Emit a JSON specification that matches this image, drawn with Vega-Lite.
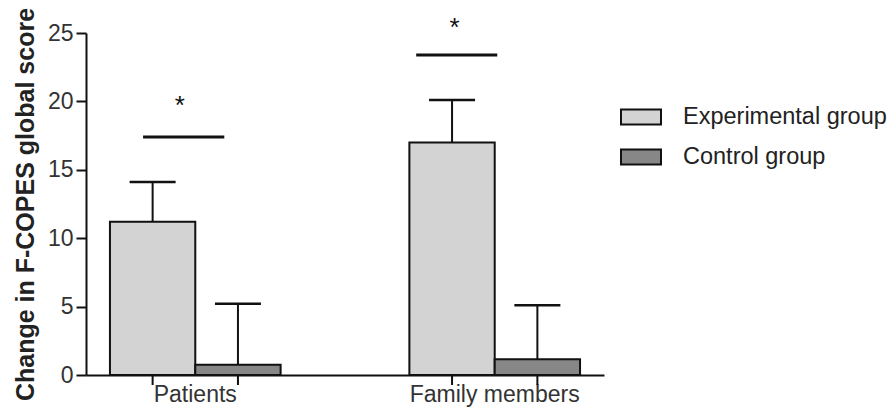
{
  "$schema": "https://vega.github.io/schema/vega-lite/v6.json",
  "autosize": "none",
  "width": 518,
  "height": 342,
  "padding": {"left": 86, "top": 33, "right": 284, "bottom": 33},
  "background": "white",
  "config": {
    "view": {"stroke": null},
    "font": "Liberation Sans",
    "axis": {"grid": false, "domainColor": "#111", "domainWidth": 2, "tickColor": "#111", "tickWidth": 2, "labelColor": "#333", "titleColor": "#222"}
  },
  "datasets": {
    "bars": [
      {"group": "Patients", "series": "Experimental group", "mean": 11.2, "upper": 14.1},
      {"group": "Patients", "series": "Control group", "mean": 0.75, "upper": 5.2},
      {"group": "Family members", "series": "Experimental group", "mean": 17.0, "upper": 20.1},
      {"group": "Family members", "series": "Control group", "mean": 1.15, "upper": 5.1}
    ],
    "notes": [
      {"group": "Patients", "line": 17.4, "star": 19.1, "label": "*"},
      {"group": "Family members", "line": 23.4, "star": 24.8, "label": "*"}
    ]
  },
  "data": {"name": "bars"},
  "encoding": {
    "x": {
      "field": "group", "type": "nominal", "sort": ["Patients", "Family members"],
      "scale": {"paddingInner": 0.43, "paddingOuter": 0.08},
      "axis": {"title": null, "labelAngle": 0, "ticks": false, "labelFontSize": 23, "labelPadding": 8}
    }
  },
  "layer": [
    {
      "mark": {"type": "bar", "stroke": "#111", "strokeWidth": 2},
      "encoding": {
        "xOffset": {"field": "series", "type": "nominal", "sort": ["Experimental group", "Control group"], "scale": {"paddingInner": 0, "paddingOuter": 0}},
        "y": {
          "field": "mean", "type": "quantitative", "title": "Change in F-COPES global score",
          "scale": {"domain": [0, 25], "nice": false},
          "axis": {"values": [0, 5, 10, 15, 20, 25], "labelFontSize": 23, "tickSize": 10, "labelPadding": 3, "titleFontSize": 25, "titleFontWeight": "bold", "titlePadding": 9}
        },
        "color": {
          "field": "series", "type": "nominal",
          "scale": {"domain": ["Experimental group", "Control group"], "range": ["#d3d3d3", "#878787"]},
          "legend": {"orient": "none", "legendX": 534, "legendY": 63, "title": null, "symbolType": "M-1,-0.375H1V0.375H-1Z", "symbolSize": 1600, "symbolStrokeColor": "#111", "symbolStrokeWidth": 2, "symbolOpacity": 1, "labelFontSize": 23.5, "labelOffset": 21, "labelLimit": 400, "rowPadding": 7, "labelColor": "#222"}
        }
      }
    },
    {
      "mark": {"type": "rule", "color": "#111", "strokeWidth": 2},
      "encoding": {
        "xOffset": {"field": "series", "type": "nominal", "sort": ["Experimental group", "Control group"]},
        "y": {"field": "mean", "type": "quantitative", "title": "Change in F-COPES global score"},
        "y2": {"field": "upper"}
      }
    },
    {
      "mark": {"type": "tick", "orient": "horizontal", "color": "#111", "size": 46, "thickness": 2.5, "opacity": 1},
      "encoding": {
        "xOffset": {"field": "series", "type": "nominal", "sort": ["Experimental group", "Control group"]},
        "y": {"field": "upper", "type": "quantitative", "title": "Change in F-COPES global score"}
      }
    },
    {
      "mark": {"type": "tick", "orient": "vertical", "color": "#111", "size": 10, "thickness": 2, "yOffset": 5, "opacity": 1},
      "encoding": {
        "xOffset": {"field": "series", "type": "nominal", "sort": ["Experimental group", "Control group"]},
        "y": {"datum": 0, "type": "quantitative"}
      }
    },
    {
      "data": {"name": "notes"},
      "transform": [{"filter": "datum.group == 'Patients'"}],
      "layer": [
        {
          "mark": {"type": "rule", "color": "#111", "strokeWidth": 3},
          "encoding": {
            "x": {"field": "group", "type": "nominal", "sort": ["Patients", "Family members"], "bandPosition": 0.194},
            "x2": {"field": "group", "bandPosition": 0.67},
            "y": {"field": "line", "type": "quantitative", "title": "Change in F-COPES global score"}
          }
        },
        {
          "mark": {"type": "text", "fontSize": 26, "color": "#111", "baseline": "alphabetic"},
          "encoding": {
            "x": {"field": "group", "type": "nominal", "sort": ["Patients", "Family members"], "bandPosition": 0.41},
            "y": {"field": "star", "type": "quantitative", "title": "Change in F-COPES global score"},
            "text": {"field": "label"}
          }
        }
      ]
    },
    {
      "data": {"name": "notes"},
      "transform": [{"filter": "datum.group == 'Family members'"}],
      "layer": [
        {
          "mark": {"type": "rule", "color": "#111", "strokeWidth": 3},
          "encoding": {
            "x": {"field": "group", "type": "nominal", "sort": ["Patients", "Family members"], "bandPosition": 0.04},
            "x2": {"field": "group", "bandPosition": 0.515},
            "y": {"field": "line", "type": "quantitative", "title": "Change in F-COPES global score"}
          }
        },
        {
          "mark": {"type": "text", "fontSize": 26, "color": "#111", "baseline": "alphabetic"},
          "encoding": {
            "x": {"field": "group", "type": "nominal", "sort": ["Patients", "Family members"], "bandPosition": 0.265},
            "y": {"field": "star", "type": "quantitative", "title": "Change in F-COPES global score"},
            "text": {"field": "label"}
          }
        }
      ]
    }
  ]
}
